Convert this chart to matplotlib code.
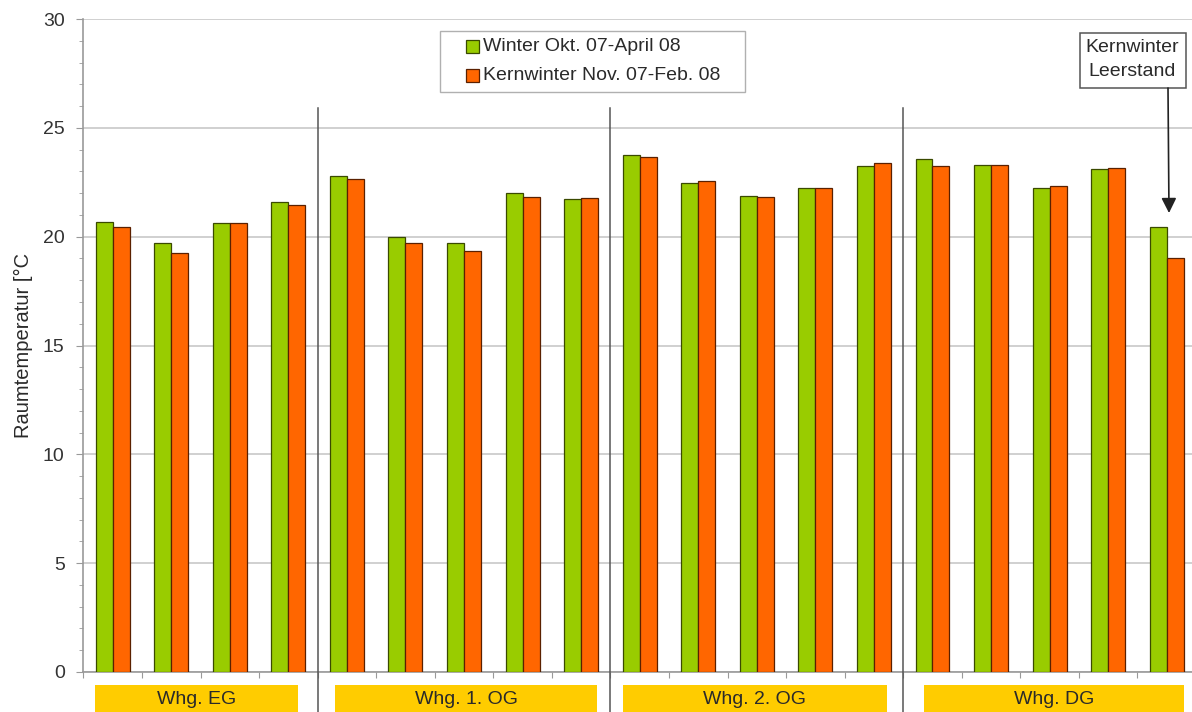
import matplotlib
matplotlib.use("Agg")
import matplotlib.pyplot as plt
from matplotlib.ticker import MultipleLocator
from matplotlib.patches import Rectangle, FancyArrowPatch
from matplotlib.transforms import blended_transform_factory

plt.rcParams['font.family'] = ['Liberation Sans', 'DejaVu Sans']

winter = [20.66, 19.69, 20.64, 21.58,
          22.80, 20.00, 19.69, 22.02, 21.71,
          23.76, 22.46, 21.88, 22.22, 23.23,
          23.58, 23.27, 22.22, 23.10, 20.44]
kernwinter = [20.43, 19.23, 20.64, 21.45,
              22.66, 19.69, 19.32, 21.82, 21.77,
              23.67, 22.57, 21.80, 22.22, 23.38,
              23.24, 23.27, 22.34, 23.15, 19.00]
groups = ["Whg. EG", "Whg. 1. OG", "Whg. 2. OG", "Whg. DG"]
group_sizes = [4, 5, 5, 5]
series_labels = ["Winter Okt. 07-April 08", "Kernwinter Nov. 07-Feb. 08"]
y_label = "Raumtemperatur [°C"
note = ["Kernwinter", "Leerstand"]
green = "#99CC00"
orange = "#FF6600"
text_col = "#2a2a2a"

W, H = 1192, 712
fig = plt.figure(figsize=(W / 100, H / 100), dpi=100)


def fx(px):
    return px / W


def fy(py):
    return 1 - py / H


left_px, right_px = 83.4, 1196.0
bottom_px, top_px = 672.0, 19.0
ax = fig.add_axes([fx(left_px), fy(bottom_px),
                   (right_px - left_px) / W, (bottom_px - top_px) / H])

n = len(winter)
xs = list(range(n))
bw = 0.29
ax.bar([x - bw / 2 for x in xs], winter, width=bw, color=green,
       edgecolor="#3a4a00", linewidth=0.9, zorder=3)
ax.bar([x + bw / 2 for x in xs], kernwinter, width=bw, color=orange,
       edgecolor="#5a2000", linewidth=0.9, zorder=3)

ax.set_xlim(-0.5, n - 0.5)
ax.set_ylim(0, 30)
ax.yaxis.set_major_locator(MultipleLocator(5))
ax.yaxis.set_minor_locator(MultipleLocator(1))
ax.set_xticks([x + 0.5 for x in range(-1, n)])
ax.set_xticklabels([])
ax.tick_params(axis='x', direction='out', length=4, color="#999999")
ax.tick_params(axis='y', which='major', direction='out', length=5,
               color="#999999", labelsize=14, labelcolor="#333333", pad=8.5)
ax.tick_params(axis='y', which='minor', direction='out', length=3, color="#999999")
ax.grid(axis='y', which='major', color="#c8c8c8", linewidth=1.2, zorder=0)
ax.set_axisbelow(True)
for s in ['top', 'right']:
    ax.spines[s].set_visible(False)
for s in ['left', 'bottom']:
    ax.spines[s].set_color("#999999")
    ax.spines[s].set_linewidth(1.2)

fig.text(fx(23), fy(345), y_label, rotation=90, fontsize=14.5, color=text_col,
         ha='center', va='center')

# group separators and labels
trans = blended_transform_factory(ax.transData, fig.transFigure)
start = 0
box_pad = [(0.2, 0.34), (0.3, 0.23), (0.21, 0.28), (0.35, 0.21)]
for i, (g, sz) in enumerate(zip(groups, group_sizes)):
    x0 = start - 0.5 + box_pad[i][0]
    x1 = start + sz - 0.5 - box_pad[i][1]
    r = Rectangle((x0, -0.02), x1 - x0, fy(685) + 0.02, transform=trans,
                  facecolor="#FFCC00", edgecolor="none", clip_on=False, zorder=5)
    ax.add_patch(r)
    ax.text((x0 + x1) / 2, fy(700), g, transform=trans, fontsize=14,
            color=text_col, ha='center', va='center', clip_on=False, zorder=6)
    start += sz
    if i < len(groups) - 1:
        xsep = start - 0.5
        ax.plot([xsep, xsep], [0, fy(108)], transform=trans,
                color="#555555", linewidth=1.1, clip_on=False, zorder=4)

# legend (drawn by hand in figure pixels)
fig.add_artist(Rectangle((fx(440), fy(92)), fx(745) - fx(440), fy(31) - fy(92),
                         transform=fig.transFigure, facecolor='white',
                         edgecolor="#b0b0b0", linewidth=1.0))
for lab, col, ec, cy in [(series_labels[0], green, "#3a4a00", 46.5),
                         (series_labels[1], orange, "#5a2000", 75)]:
    fig.add_artist(Rectangle((fx(466), fy(cy + 6.5)), fx(13), 13 / H,
                             transform=fig.transFigure, facecolor=col,
                             edgecolor=ec, linewidth=0.9))
    fig.text(fx(483), fy(cy), lab, fontsize=14, color=text_col,
             ha='left', va='center')

# annotation box and arrow
fig.add_artist(Rectangle((fx(1080), fy(88)), fx(106), 55 / H,
                         transform=fig.transFigure, facecolor='white',
                         edgecolor="#555555", linewidth=1.1, zorder=6))
fig.text(fx(1132), fy(48), note[0], fontsize=14, color=text_col,
         ha='center', va='center', zorder=7)
fig.text(fx(1132), fy(72), note[1], fontsize=14, color=text_col,
         ha='center', va='center', zorder=7)
fig.add_artist(FancyArrowPatch((fx(1168), fy(88)), (fx(1169), fy(213)),
                               transform=fig.transFigure,
                               arrowstyle='-|>,head_length=9,head_width=4.5',
                               color="#222222", linewidth=1.2,
                               shrinkA=0, shrinkB=0, zorder=7))

fig.savefig("out.png", dpi=100)
